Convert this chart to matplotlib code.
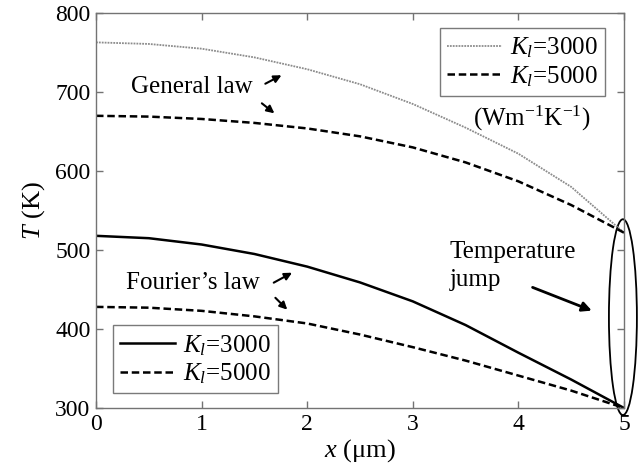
import matplotlib
matplotlib.use("Agg")
import matplotlib.pyplot as plt
from matplotlib.patches import Ellipse

plt.rcParams['font.family'] = ['Liberation Serif', 'DejaVu Serif']
plt.rcParams['mathtext.fontset'] = 'custom'
plt.rcParams['mathtext.rm'] = 'Liberation Serif'
plt.rcParams['mathtext.it'] = 'Liberation Serif:italic'

# Data (x in µm, T in K)
x = [0, 0.5, 1, 1.5, 2, 2.5, 3, 3.5, 4, 4.5, 5]
general_3000 = [763, 761, 755, 744, 729, 710, 685, 655, 622, 580, 522]
general_5000 = [670, 669, 666, 661, 654, 644, 630, 611, 587, 557, 522]
fourier_3000 = [518, 515, 507, 495, 479, 459, 435, 405, 370, 336, 300]
fourier_5000 = [428, 427, 423, 416, 407, 393, 377, 360, 341, 322, 300]

xticks = [0, 1, 2, 3, 4, 5]
yticks = [300, 400, 500, 600, 700, 800]

fig = plt.figure(figsize=(6.38, 4.70), dpi=100)
ax = fig.add_axes([0.1505, 0.132, 0.8275, 0.840])

l1, = ax.plot(x, general_3000, color='0.55', lw=1.3, ls=(0, (1, 0.6)))
l2, = ax.plot(x, general_5000, color='black', lw=1.8, ls=(0, (3, 1.5)))
l3, = ax.plot(x, fourier_3000, color='black', lw=1.8, ls='-')
l4, = ax.plot(x, fourier_5000, color='black', lw=1.8, ls=(0, (3, 1.5)))

ax.set_xlim(0, 5)
ax.set_ylim(300, 800)
ax.set_xticks(xticks)
ax.set_yticks(yticks)
ax.tick_params(direction='in', top=True, right=True, length=5, width=1,
               color='0.45', labelsize=17, pad=4)
for s in ax.spines.values():
    s.set_color('0.45')
    s.set_linewidth(1.0)

ax.set_xlabel(r'$x$ (μm)', fontsize=19, labelpad=2)
ax.set_ylabel(r'$T$ (K)', fontsize=19, labelpad=6)

leg1 = ax.legend([l1, l2], [r'$K_l$=3000', r'$K_l$=5000'], loc='upper right',
                 bbox_to_anchor=(0.964, 0.962), fontsize=18, frameon=True,
                 fancybox=False, edgecolor='0.35', handlelength=2.2,
                 borderpad=0.3, labelspacing=0.15, handletextpad=0.3,
                 borderaxespad=0)
leg1.get_frame().set_linewidth(1.0)
ax.add_artist(leg1)
leg2 = ax.legend([l3, l4], [r'$K_l$=3000', r'$K_l$=5000'], loc='lower left',
                 bbox_to_anchor=(0.0316, 0.037), fontsize=18, frameon=True,
                 fancybox=False, edgecolor='0.35', handlelength=2.2,
                 borderpad=0.3, labelspacing=0.15, handletextpad=0.3,
                 borderaxespad=0)
leg2.get_frame().set_linewidth(1.0)

ax.text(4.68, 667, r'(Wm$^{\mathregular{-1}}$K$^{\mathregular{-1}}$)', fontsize=18,
        ha='right', va='center')

ax.text(1.48, 706, 'General law', fontsize=18, ha='right', va='center')
ap = dict(arrowstyle='-|>', color='black', lw=1.5, mutation_scale=11)
ax.annotate('', xy=(1.78, 723), xytext=(1.58, 709), arrowprops=ap)
ax.annotate('', xy=(1.71, 671), xytext=(1.55, 688), arrowprops=ap)

ax.text(1.55, 458, 'Fourier’s law', fontsize=18, ha='right', va='center')
ax.annotate('', xy=(1.88, 473), xytext=(1.66, 457), arrowprops=ap)
ax.annotate('', xy=(1.83, 422), xytext=(1.68, 442), arrowprops=ap)

ax.text(3.35, 480, 'Temperature\njump', fontsize=18, ha='left', va='center',
        linespacing=1.35)
ax.annotate('', xy=(4.72, 422), xytext=(4.11, 454),
            arrowprops=dict(arrowstyle='-|>', color='black', lw=2.0, mutation_scale=14))

ax.add_patch(Ellipse((4.99, 415), 0.265, 248, fill=False, edgecolor='black',
                     lw=1.3, clip_on=False))

fig.savefig('out.png', dpi=100)
